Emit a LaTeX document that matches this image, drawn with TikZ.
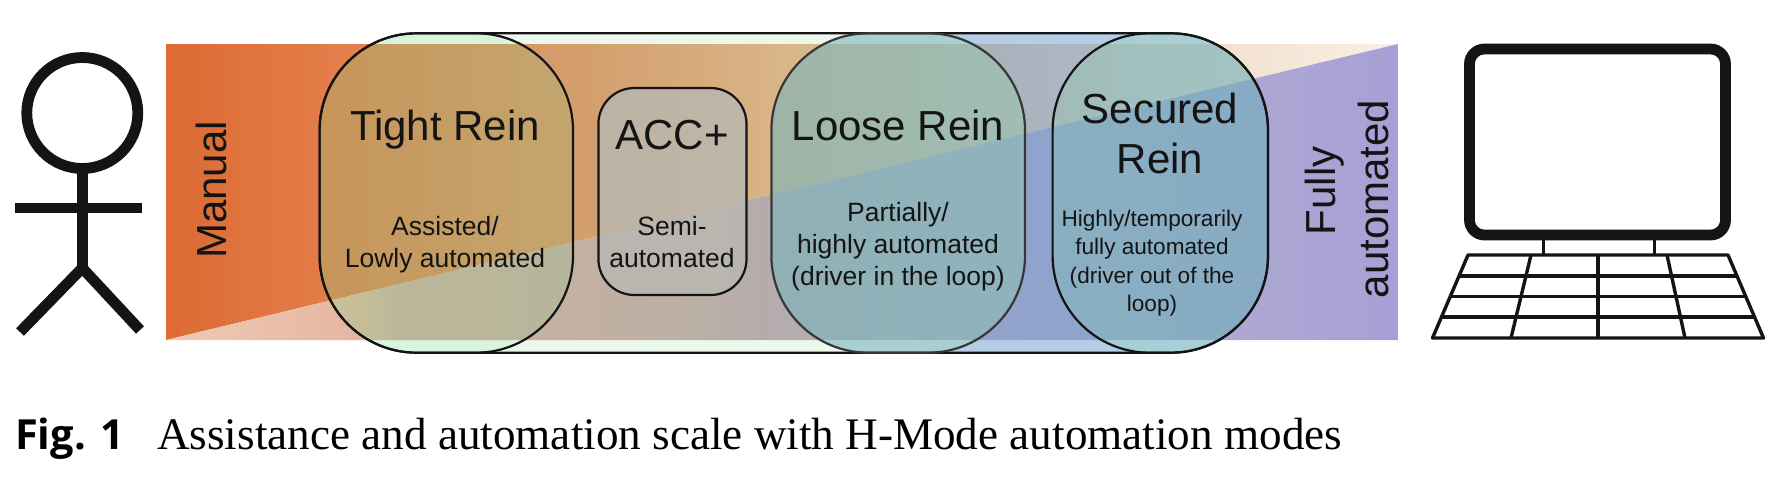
\documentclass[tikz,border=0pt]{standalone}
\usepackage{fontspec}
\setmainfont{Liberation Sans}
\newfontfamily\capserif{Liberation Serif}
\newfontfamily\capsans{Open Sans}
\definecolor{ink}{HTML}{141414}
\definecolor{c1a}{HTML}{DC6A33}\definecolor{c1b}{HTML}{E47D4A}\definecolor{c1c}{HTML}{E29669}
\definecolor{c1d}{HTML}{E8B289}\definecolor{c1e}{HTML}{F0DBC6}\definecolor{c1f}{HTML}{F9EFE6}
\definecolor{c2a}{HTML}{F0CAB4}\definecolor{c2b}{HTML}{E5B5A0}\definecolor{c2c}{HTML}{D2AAA3}
\definecolor{c2d}{HTML}{C4A9A9}\definecolor{c2e}{HTML}{BCA3B2}\definecolor{c2f}{HTML}{BBAAC0}
\definecolor{c2g}{HTML}{B5AECF}\definecolor{c2h}{HTML}{A6A0D6}
\definecolor{ovgreen}{RGB}{145,214,145}
\definecolor{ovtight}{RGB}{125,212,135}
\definecolor{ovblue}{RGB}{107,155,205}
\definecolor{ovloose}{RGB}{121,183,183}
\definecolor{ovsecured}{RGB}{110,175,186}
\definecolor{ovacc}{RGB}{184,184,178}
\pgfdeclarehorizontalshading{uppertri}{100bp}{
 color(0bp)=(c1a); color(25bp)=(c1a); color(31.7bp)=(c1b); color(42.6bp)=(c1c); color(50.7bp)=(c1d); color(65bp)=(c1e); color(75bp)=(c1f); color(100bp)=(c1f)}
\pgfdeclarehorizontalshading{lowertri}{100bp}{
 color(0bp)=(c2a); color(25bp)=(c2a); color(33.1bp)=(c2b); color(34.5bp)=(c2c); color(38.6bp)=(c2c); color(46.7bp)=(c2d); color(49.1bp)=(c2e); color(54.8bp)=(c2f); color(62.9bp)=(c2g); color(75bp)=(c2h); color(100bp)=(c2h)}
\tikzset{
 titletext/.style={inner sep=0pt,text=ink,anchor=base,align=center,font=\fontsize{42}{50}\selectfont},
 subtext/.style={inner sep=0pt,text=ink,anchor=base,align=center,font=\fontsize{26.5}{32}\selectfont},
 finetext/.style={inner sep=0pt,text=ink,anchor=base,align=center,font=\fontsize{22.6}{28.5}\selectfont},
 outline/.style={draw=ink,line width=2.2pt},
 figure line/.style={draw=ink,line width=10.8pt},
 kbd line/.style={draw=ink,line width=3.4pt},
}
\newcommand{\bigbox}{(319.6,33.3) rectangle (1268,352.7)}
\newcommand{\tightbox}{(319.6,33.3) rectangle (573,352.7)}
\newcommand{\loosebox}{(771.4,33.3) rectangle (1025,352.7)}
\newcommand{\securedbox}{(1052.6,33.3) rectangle (1268,352.7)}
\newcommand{\accbox}{(598.4,88) rectangle (746.5,295)}
\begin{document}
\begin{tikzpicture}[x=1pt,y=-1pt]
\useasboundingbox (0,0) rectangle (1778,480);
% scale
\shade[shading=uppertri] (166,44) -- (1398,44) -- (166,340) -- cycle;
\shade[shading=lowertri] (166,340) -- (1398,44) -- (1398,340) -- cycle;
% overlays
\begin{scope}
\clip (300,0) rectangle (880,480);
\fill[even odd rule,rounded corners=97pt,fill=ovgreen,fill opacity=.16] \bigbox \tightbox \loosebox;
\end{scope}
\begin{scope}
\clip (880,0) rectangle (1300,480);
\fill[even odd rule,rounded corners=97pt,fill=ovblue,fill opacity=.5] \bigbox \loosebox \securedbox;
\end{scope}
\fill[rounded corners=97pt,fill=ovtight,fill opacity=.29] \tightbox;
\fill[rounded corners=97pt,fill=ovloose,fill opacity=.65] \loosebox;
\fill[rounded corners=97pt,fill=ovsecured,fill opacity=.6] \securedbox;
\fill[rounded corners=36pt,fill=ovacc,fill opacity=.8] \accbox;
\draw[outline,rounded corners=97pt] \bigbox;
\draw[outline,rounded corners=97pt] \tightbox;
\draw[outline,rounded corners=97pt,draw=ink!85] \loosebox;
\draw[outline,rounded corners=97pt] \securedbox;
\draw[outline,rounded corners=36pt] \accbox;
% person
\draw[figure line] (82.3,113) circle (55.5);
\draw[figure line] (82.3,173) -- (82.3,270);
\draw[figure line] (15,208) -- (142,208);
\draw[figure line,line join=miter] (20,332) -- (82.3,268) -- (140,330);
% computer
\draw[figure line,rounded corners=15pt] (1469.5,49) rectangle (1725.5,235);
\draw[kbd line] (1543.5,235) -- (1543.5,255);
\draw[kbd line] (1654.5,235) -- (1654.5,255);
\draw[kbd line,line join=round] (1468,255) -- (1728,255) -- (1763.5,338) -- (1432.5,338) -- cycle;
\draw[kbd line] (1459,276) -- (1737,276);
\draw[kbd line] (1450.2,296.7) -- (1745.7,296.7);
\draw[kbd line] (1441.5,317) -- (1754.5,317);
\draw[kbd line] (1531,255) -- (1511,338);
\draw[kbd line] (1598,255) -- (1598,338);
\draw[kbd line] (1667,255) -- (1685,338);
% labels
\node[titletext,rotate=90] (manual) at (226.5,190) {Manual};
\node[titletext,rotate=90] (fully) at (1335.7,190.7) {Fully};
\node[titletext,rotate=90] (automated) at (1388.5,199) {automated};
\node[titletext] (tight) at (445,140.7) {Tight Rein};
\node[subtext] (assisted) at (445,267.3) {Assisted/\\Lowly automated};
\node[titletext] (acc) at (672,149.3) {ACC+};
\node[subtext] (semi) at (672,267) {Semi-\\automated};
\node[titletext] (loose) at (898,140.7) {Loose Rein};
\node[subtext] (partial) at (898,285) {Partially/\\highly automated\\(driver in the loop)};
\node[titletext] (secured) at (1160,173.3) {Secured\\Rein};
\node[finetext] (highly) at (1152,311.7) {Highly/temporarily\\fully automated\\(driver out of the\\loop)};
\node[inner sep=0pt,anchor=base west,text=black,font=\capsans\bfseries\fontsize{41.5}{44}\selectfont] (figlabel) at (15,449) {Fig. 1};
\node[inner sep=0pt,anchor=base west,text=black,font=\capserif\fontsize{45.15}{48}\selectfont] (caption) at (157,449) {Assistance and automation scale with H-Mode automation modes};
\end{tikzpicture}
\end{document}
